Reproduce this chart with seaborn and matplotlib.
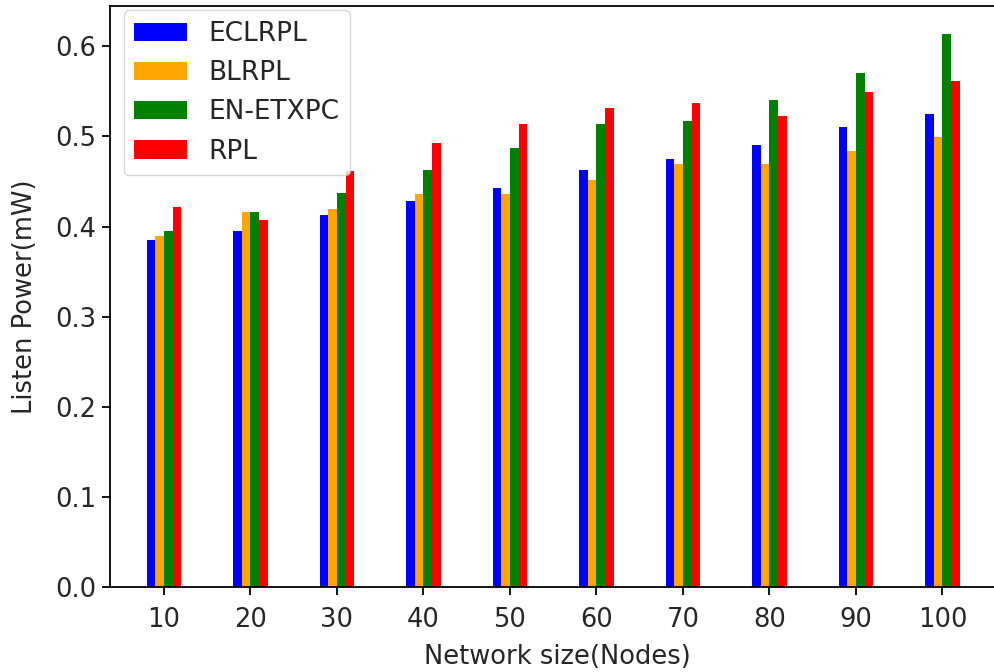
import matplotlib
matplotlib.use("Agg")
import matplotlib.pyplot as plt
import seaborn as sns
import pandas as pd

# Network sizes (number of nodes)
nodes = [10, 20, 30, 40, 50, 60, 70, 80, 90, 100]

# Listen power (mW) per protocol
eclrpl = [0.385, 0.395, 0.413, 0.428, 0.443, 0.463, 0.475, 0.490, 0.510, 0.525]
blrpl = [0.389, 0.416, 0.419, 0.436, 0.436, 0.452, 0.469, 0.469, 0.484, 0.499]
en_etxpc = [0.395, 0.416, 0.437, 0.463, 0.487, 0.514, 0.517, 0.540, 0.570, 0.614]
rpl = [0.422, 0.407, 0.462, 0.493, 0.514, 0.531, 0.537, 0.523, 0.549, 0.561]

protocols = ["ECLRPL", "BLRPL", "EN-ETXPC", "RPL"]
colors = ["blue", "orange", "green", "red"]

df = pd.DataFrame({
    "nodes": nodes * 4,
    "power": eclrpl + blrpl + en_etxpc + rpl,
    "protocol": [p for p in protocols for _ in nodes],
})

sns.set_theme(style="ticks", rc={
    "axes.edgecolor": "black",
    "axes.linewidth": 1.3,
    "xtick.major.width": 1.3,
    "ytick.major.width": 1.3,
    "xtick.major.size": 5.8,
    "ytick.major.size": 5.8,
    "xtick.major.pad": 8.5,
    "ytick.major.pad": 4.5,
    "text.color": "#262626",
    "axes.labelcolor": "#262626",
    "xtick.color": "black",
    "ytick.color": "black",
    "xtick.labelcolor": "#262626",
    "ytick.labelcolor": "#262626",
})
plt.rcParams["font.family"] = ["DejaVu Sans"]

fs = 18.5
fig = plt.figure(figsize=(9.95, 6.72), dpi=100)
ax = fig.add_axes([0.1109, 0.1265, 0.8988, 0.8646])

sns.barplot(
    data=df, x="nodes", y="power", hue="protocol",
    hue_order=protocols, palette=colors, native_scale=True,
    width=0.4, gap=0, saturation=1, linewidth=0, errorbar=None, ax=ax,
)

ax.set_xticks(nodes)
ax.set_xticklabels([str(n) for n in nodes])
ax.set_xlim(3.8, 107.2)
ax.set_yticks([0.0, 0.1, 0.2, 0.3, 0.4, 0.5, 0.6])
ax.tick_params(labelsize=fs)
ax.set_xlabel("Network size(Nodes)", fontsize=fs, labelpad=8)
ax.set_ylabel("Listen Power(mW)", fontsize=fs, labelpad=12)

handles, labels = ax.get_legend_handles_labels()
ax.legend(handles, labels, loc="upper left", bbox_to_anchor=(0.0, 1.015),
          fontsize=19, frameon=True, fancybox=True, framealpha=0.8,
          edgecolor="#cccccc")

fig.savefig("out.png", dpi=100)
